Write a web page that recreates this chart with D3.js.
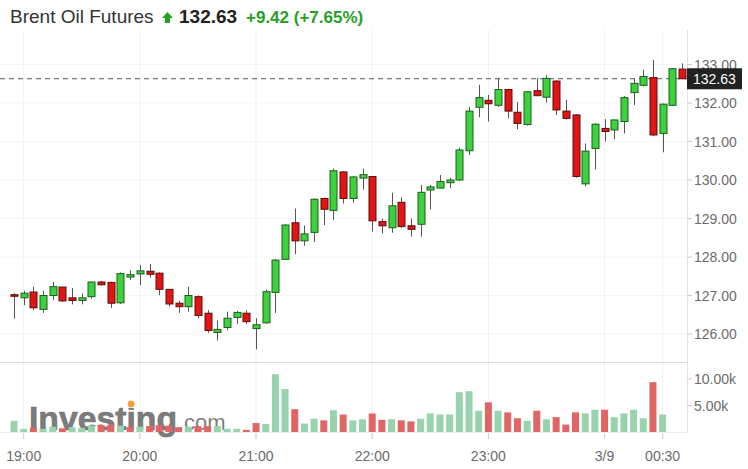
<!DOCTYPE html>
<html>
<head>
<meta charset="utf-8">
<script src="https://cdn.jsdelivr.net/npm/d3@7/dist/d3.min.js"></script>
<style>
  body { margin: 0; background: #fff; }
  svg { display: block; font-family: "Liberation Sans", Arial, sans-serif; }
</style>
</head>
<body>
<div id="chart"></div>
<script>
const startTime = new Date(2022, 2, 8, 18, 55);
const stepMin = 5;

const opens = [127.02, 126.94, 127.09, 126.64, 127.00, 127.22, 126.94, 126.87, 126.97, 127.35,
  127.34, 126.81, 127.48, 127.56, 127.63, 127.58, 127.16, 126.80, 126.71, 126.97,
  126.54, 126.04, 126.17, 126.43, 126.54, 126.14, 126.29, 127.08, 127.94, 128.89,
  128.42, 128.64, 129.52, 129.21, 130.21, 129.52, 130.05, 130.09, 128.92, 128.76,
  129.42, 128.81, 128.85, 129.74, 129.79, 129.93, 130.00, 130.76, 131.89, 132.07,
  131.94, 132.35, 131.76, 131.44, 132.32, 132.15, 132.57, 131.79, 131.69, 129.90,
  130.82, 131.34, 131.30, 131.52, 132.27, 132.46, 132.66, 131.21, 131.94, 132.88];
const closes = [126.98, 127.06, 126.68, 127.00, 127.23, 126.86, 126.87, 126.94, 127.35, 127.28,
  126.80, 127.57, 127.54, 127.64, 127.55, 127.16, 126.78, 126.71, 127.00, 126.48,
  126.09, 126.12, 126.41, 126.56, 126.32, 126.24, 127.10, 127.92, 128.83, 128.42,
  128.60, 129.50, 129.24, 130.24, 129.52, 130.08, 130.14, 128.94, 128.81, 129.33,
  128.79, 128.72, 129.68, 129.82, 129.96, 130.00, 130.78, 131.79, 132.14, 131.98,
  132.35, 131.79, 131.47, 132.29, 132.19, 132.64, 131.82, 131.60, 130.09, 130.75,
  131.45, 131.26, 131.56, 132.14, 132.51, 132.69, 131.17, 131.97, 132.89, 132.63];
const highs = [127.06, 127.12, 127.23, 127.12, 127.35, 127.22, 127.19, 127.05, 127.36, 127.38,
  127.36, 127.60, 127.66, 127.79, 127.82, 127.60, 127.17, 126.86, 127.23, 127.00,
  126.62, 126.35, 126.58, 126.60, 126.62, 126.41, 127.15, 127.95, 128.85, 129.26,
  128.82, 129.52, 129.54, 130.30, 130.23, 130.10, 130.30, 130.10, 129.00, 129.67,
  129.55, 129.00, 129.87, 129.87, 130.13, 130.06, 130.84, 131.90, 132.47, 132.21,
  132.65, 132.37, 132.03, 132.30, 132.65, 132.73, 132.59, 132.08, 131.71, 130.95,
  131.47, 131.58, 131.58, 132.18, 132.64, 132.86, 133.12, 131.99, 132.90, 133.03];
const lows = [126.40, 126.75, 126.62, 126.55, 126.88, 126.83, 126.77, 126.77, 126.92, 127.26,
  126.68, 126.78, 127.40, 127.27, 127.47, 127.01, 126.71, 126.55, 126.58, 126.41,
  126.03, 125.83, 126.10, 126.26, 126.26, 125.60, 126.27, 126.55, 127.92, 128.07,
  128.29, 128.39, 128.83, 128.96, 129.39, 129.41, 129.75, 128.66, 128.61, 128.63,
  128.75, 128.53, 128.53, 129.24, 129.78, 129.79, 129.97, 130.65, 131.63, 131.52,
  131.90, 131.60, 131.32, 131.42, 132.18, 132.01, 131.69, 131.57, 130.06, 129.83,
  130.27, 131.00, 131.06, 131.21, 131.95, 132.43, 131.14, 130.72, 131.92, 132.62];
// volume in thousands
const volumes = [2.1, 0.6, 0.8, 0.6, 1.0, 0.7, 0.9, 0.8, 1.2, 1.3,
  1.4, 1.2, 0.9, 1.0, 1.1, 1.3, 1.2, 0.9, 1.0, 1.1,
  1.1, 1.1, 0.6, 0.6, 0.4, 1.7, 1.5, 10.9, 8.1, 4.3,
  1.6, 2.5, 2.2, 4.1, 3.3, 2.2, 2.4, 3.5, 2.3, 2.4,
  2.2, 2.0, 2.5, 3.5, 3.3, 3.3, 7.5, 7.7, 4.0, 5.6,
  4.0, 3.7, 2.6, 2.1, 4.0, 2.4, 2.8, 1.4, 3.7, 3.5,
  4.2, 4.2, 2.8, 3.5, 4.2, 2.6, 9.4, 3.3, null, null];
const firstPrevClose = 126.90;

const priceTicks = [126, 127, 128, 129, 130, 131, 132, 133];
const volTicks = [5, 10];
const timeTicks = [
  [new Date(2022, 2, 8, 19, 0), '19:00'],
  [new Date(2022, 2, 8, 20, 0), '20:00'],
  [new Date(2022, 2, 8, 21, 0), '21:00'],
  [new Date(2022, 2, 8, 22, 0), '22:00'],
  [new Date(2022, 2, 8, 23, 0), '23:00'],
  [new Date(2022, 2, 9, 0, 0), '3/9'],
  [new Date(2022, 2, 9, 0, 30), '00:30']
];
const lastPrice = 132.63;

const W = 748, H = 469;
const plotRight = 687;
const green = '#3dd23d', greenStroke = '#1d5e1d';
const red = '#e21515', redStroke = '#5c0c0c';
const volGreen = '#98d3ad', volRed = '#e06565';

const data = opens.map((o, i) => ({
  t: new Date(startTime.getTime() + i * stepMin * 60000),
  o, c: closes[i], h: highs[i], l: lows[i], v: volumes[i],
  up: closes[i] >= (i ? closes[i - 1] : firstPrevClose)
}));

const svg = d3.select('#chart').append('svg')
  .attr('width', W).attr('height', H);

const x = d3.scaleTime()
  .domain([data[0].t, data[data.length - 1].t])
  .range([14, 682]);
const y = d3.scaleLinear().domain([126, 133]).range([334, 64.5]);
const yv = d3.scaleLinear().domain([0, 10]).range([432, 379]);

// grid
const grid = svg.append('g');
grid.selectAll('.vg').data(timeTicks).enter().append('line')
  .attr('x1', d => x(d[0])).attr('x2', d => x(d[0]))
  .attr('y1', 30).attr('y2', 432)
  .attr('stroke', '#f1f1f1');
grid.selectAll('.hg').data(priceTicks).enter().append('line')
  .attr('x1', 0).attr('x2', plotRight)
  .attr('y1', d => y(d)).attr('y2', d => y(d))
  .attr('stroke', '#f5f5f5');

// panel separator + axis lines
svg.append('line').attr('x1', 0).attr('x2', plotRight).attr('y1', 362.5).attr('y2', 362.5)
  .attr('stroke', '#d9d9d9');
svg.append('line').attr('x1', plotRight + 0.5).attr('x2', plotRight + 0.5).attr('y1', 30).attr('y2', 433)
  .attr('stroke', '#e3e3e3');
svg.append('line').attr('x1', 0).attr('x2', plotRight).attr('y1', 432.5).attr('y2', 432.5)
  .attr('stroke', '#eeeeee');

// watermark
const wm = svg.append('g');
const wmText = wm.append('text').attr('x', 29).attr('y', 430)
  .attr('font-size', 33).attr('font-weight', 'bold')
  .attr('fill', '#6a6a6a').attr('fill-opacity', 0.88)
  .attr('stroke', '#6a6a6a').attr('stroke-opacity', 0.88).attr('stroke-width', 0.7)
  .attr('textLength', 148).attr('lengthAdjust', 'spacingAndGlyphs')
  .text('Investing');
wm.append('text').attr('x', 178).attr('y', 430)
  .attr('font-size', 22).attr('fill', '#6a6a6a').attr('fill-opacity', 0.88)
  .text('.com');
// orange dot over the "i"
let dotX = 131;
try {
  const ext = wmText.node().getExtentOfChar(6);
  dotX = ext.x + ext.width / 2;
} catch (e) {}
wm.append('rect').attr('x', dotX - 4).attr('y', 401).attr('width', 8).attr('height', 7)
  .attr('fill', '#fff');
wm.append('circle').attr('cx', dotX).attr('cy', 404).attr('r', 3.4).attr('fill', '#f2a23c');

// volume bars
svg.append('g').selectAll('rect').data(data.filter(d => d.v != null)).enter().append('rect')
  .attr('x', d => x(d.t) - 3.5)
  .attr('width', 7)
  .attr('y', d => yv(d.v))
  .attr('height', d => yv(0) - yv(d.v))
  .attr('fill', d => d.up ? volGreen : volRed);

// last price dashed line
svg.append('line').attr('x1', 0).attr('x2', plotRight)
  .attr('y1', y(lastPrice)).attr('y2', y(lastPrice))
  .attr('stroke', '#555').attr('stroke-dasharray', '5,4');

// candles
const candles = svg.append('g').selectAll('g').data(data).enter().append('g');
candles.append('line')
  .attr('x1', d => Math.round(x(d.t)) + 0.5).attr('x2', d => Math.round(x(d.t)) + 0.5)
  .attr('y1', d => y(d.h)).attr('y2', d => y(d.l))
  .attr('stroke', '#555');
candles.append('rect')
  .attr('x', d => Math.round(x(d.t)) - 3)
  .attr('width', 7)
  .attr('y', d => y(Math.max(d.o, d.c)))
  .attr('height', d => Math.max(1, y(Math.min(d.o, d.c)) - y(Math.max(d.o, d.c))))
  .attr('fill', d => d.c >= d.o ? green : red)
  .attr('stroke', d => d.c >= d.o ? greenStroke : redStroke)
  .attr('stroke-width', 1);

// right axis
const ra = svg.append('g');
ra.selectAll('.pt').data(priceTicks).enter().append('line')
  .attr('x1', plotRight).attr('x2', plotRight + 5)
  .attr('y1', d => y(d)).attr('y2', d => y(d)).attr('stroke', '#ccc');
ra.selectAll('.pl').data(priceTicks).enter().append('text')
  .attr('x', 694).attr('y', d => y(d)).attr('dy', '0.36em')
  .attr('font-size', 14).attr('fill', '#6b6b6b')
  .text(d => d.toFixed(2));
ra.selectAll('.vl').data(volTicks).enter().append('text')
  .attr('x', 694).attr('y', d => yv(d)).attr('dy', '0.36em')
  .attr('font-size', 14).attr('fill', '#6b6b6b')
  .text(d => d.toFixed(2) + 'k');
ra.selectAll('.vt').data(volTicks).enter().append('line')
  .attr('x1', plotRight).attr('x2', plotRight + 5)
  .attr('y1', d => yv(d)).attr('y2', d => yv(d)).attr('stroke', '#ccc');

// last price box
ra.append('rect').attr('x', plotRight).attr('y', y(lastPrice) - 10.5)
  .attr('width', 55).attr('height', 21).attr('fill', '#222');
ra.append('text').attr('x', 693).attr('y', y(lastPrice)).attr('dy', '0.36em')
  .attr('font-size', 14).attr('fill', '#fff')
  .text(lastPrice.toFixed(2));

// bottom axis
const ba = svg.append('g');
ba.selectAll('line').data(timeTicks).enter().append('line')
  .attr('x1', d => x(d[0])).attr('x2', d => x(d[0]))
  .attr('y1', 433).attr('y2', 439).attr('stroke', '#ccc');
ba.selectAll('text').data(timeTicks).enter().append('text')
  .attr('x', d => x(d[0])).attr('y', 456).attr('dy', '0.36em')
  .attr('text-anchor', 'middle')
  .attr('font-size', 14).attr('fill', '#6b6b6b')
  .text(d => d[1]);

// header
const hd = svg.append('g');
hd.append('text').attr('x', 10).attr('y', 23)
  .attr('font-size', 19).attr('fill', '#333').text('Brent Oil Futures');
hd.append('path')
  .attr('d', 'M167.5,12 L173,18 L170,18 L170,23 L165,23 L165,18 L162,18 Z')
  .attr('fill', '#22a022');
hd.append('text').attr('x', 179).attr('y', 23)
  .attr('font-size', 19).attr('font-weight', 'bold').attr('fill', '#222').text(lastPrice.toFixed(2));
hd.append('text').attr('x', 246).attr('y', 23)
  .attr('font-size', 17).attr('font-weight', 'bold').attr('fill', '#25a025').text('+9.42 (+7.65%)');
</script>
</body>
</html>
